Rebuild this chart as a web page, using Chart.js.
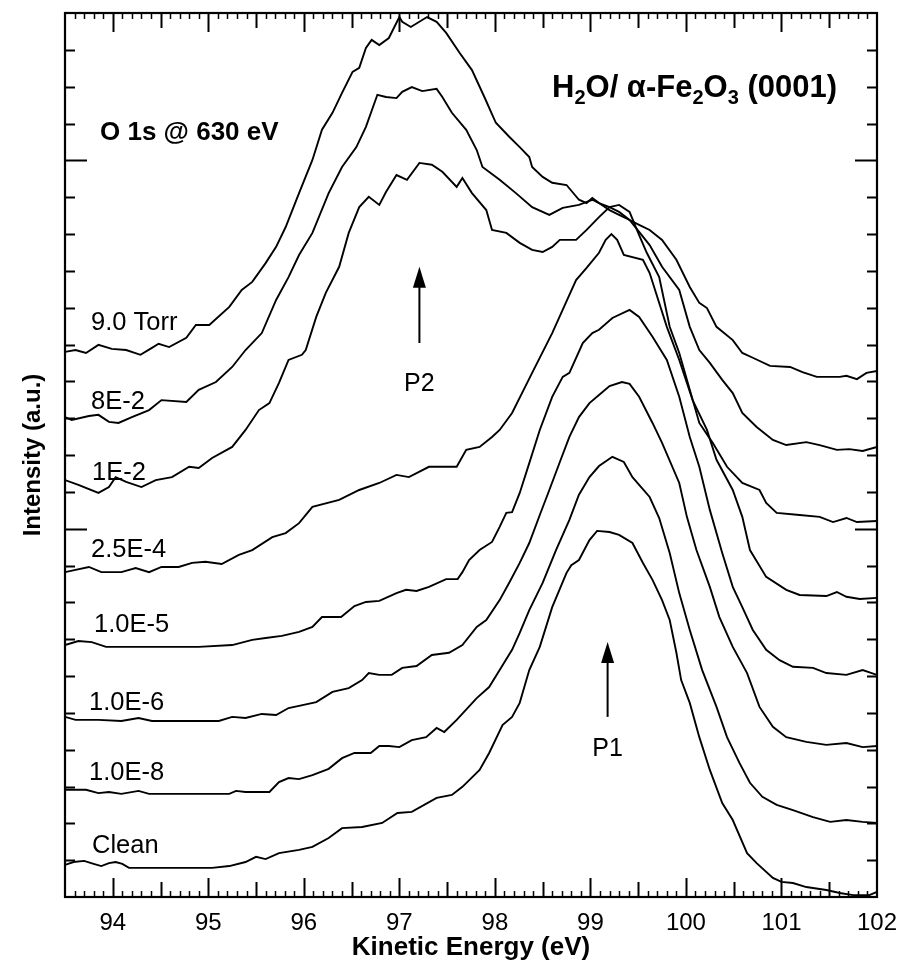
<!DOCTYPE html>
<html>
<head>
<meta charset="utf-8">
<title>H2O / Fe2O3 O 1s spectra</title>
<script src="https://cdn.jsdelivr.net/npm/chart.js@4.4.1/dist/chart.umd.min.js"></script>
<style>
    html, body { margin: 0; padding: 0; background: #fff; }
    #wrap { width: 901px; height: 966px; }
</style>
</head>
<body>
<div id="wrap"><canvas id="espectros" width="901" height="966"></canvas></div>
<script>

// [kinetic energy (eV), intensity (a.u., offset)] for each water pressure
const clean = [[93.50,0.87],[93.59,0.95],[93.70,0.98],[93.80,0.90],[93.88,0.84],[93.96,0.92],[94.03,0.95],[94.10,0.90],[94.17,0.79],[94.38,0.79],[94.62,0.79],[95.04,0.79],[95.22,0.84],[95.39,0.95],[95.50,1.09],[95.60,1.03],[95.74,1.19],[95.95,1.28],[96.09,1.36],[96.26,1.60],[96.40,1.87],[96.61,1.90],[96.82,2.01],[96.98,2.28],[97.13,2.31],[97.39,2.69],[97.55,2.77],[97.66,2.99],[97.84,3.45],[97.94,3.91],[98.08,4.67],[98.18,4.89],[98.26,5.27],[98.36,6.16],[98.47,6.79],[98.60,7.87],[98.75,8.80],[98.80,9.01],[98.88,9.15],[98.99,9.69],[99.07,9.94],[99.20,9.91],[99.30,9.83],[99.44,9.61],[99.55,9.07],[99.65,8.61],[99.75,8.06],[99.83,7.52],[99.90,6.63],[99.95,5.89],[100.04,5.27],[100.14,4.34],[100.25,3.45],[100.38,2.55],[100.49,2.09],[100.64,1.19],[100.74,0.92],[100.91,0.52],[101.00,0.41],[101.12,0.38],[101.26,0.27],[101.47,0.19],[101.61,0.11],[101.75,0.05],[101.92,0.05],[102.00,0.14]];

const p1e8 = [[93.50,2.91],[93.72,2.91],[93.85,2.82],[93.96,2.85],[94.09,2.80],[94.27,2.88],[94.38,2.80],[95.22,2.80],[95.29,2.88],[95.39,2.85],[95.64,2.85],[95.74,3.12],[95.84,3.23],[95.95,3.20],[96.09,3.31],[96.26,3.48],[96.40,3.77],[96.53,3.91],[96.70,3.91],[96.79,4.10],[96.89,4.10],[97.00,4.07],[97.13,4.26],[97.28,4.34],[97.39,4.59],[97.47,4.48],[97.60,4.81],[97.81,5.40],[97.94,5.70],[98.05,6.16],[98.18,6.71],[98.26,7.17],[98.36,7.79],[98.50,8.53],[98.64,9.42],[98.78,10.24],[98.88,10.92],[98.99,11.40],[99.09,11.70],[99.23,11.95],[99.35,11.81],[99.44,11.40],[99.62,10.86],[99.72,10.29],[99.83,9.34],[99.93,8.25],[100.04,7.25],[100.17,6.16],[100.32,5.16],[100.43,4.34],[100.56,3.64],[100.67,3.10],[100.80,2.72],[100.95,2.50],[101.12,2.36],[101.33,2.17],[101.51,2.04],[101.68,2.09],[101.85,2.04],[102.00,2.01]];

const p1e6 = [[93.50,4.89],[93.61,4.81],[93.85,4.81],[94.09,4.78],[94.27,4.86],[94.41,4.78],[95.11,4.78],[95.25,4.89],[95.39,4.86],[95.56,4.97],[95.71,4.94],[95.84,5.13],[95.95,5.19],[96.13,5.29],[96.30,5.57],[96.47,5.67],[96.61,5.89],[96.68,6.08],[96.79,6.03],[96.92,6.03],[97.03,6.22],[97.18,6.27],[97.34,6.57],[97.52,6.63],[97.66,6.84],[97.81,7.33],[97.91,7.52],[98.05,8.06],[98.15,8.53],[98.26,9.07],[98.36,9.61],[98.47,10.37],[98.57,11.05],[98.68,11.81],[98.78,12.49],[98.88,13.03],[98.99,13.41],[99.09,13.63],[99.20,13.87],[99.33,13.98],[99.41,13.93],[99.51,13.58],[99.65,12.87],[99.75,12.33],[99.93,11.24],[100.01,10.32],[100.11,9.42],[100.25,8.42],[100.35,7.60],[100.49,6.79],[100.64,6.08],[100.77,5.16],[100.91,4.62],[101.05,4.34],[101.26,4.21],[101.47,4.13],[101.68,4.18],[101.85,4.07],[102.00,4.10]];

const p1e5 = [[93.50,6.84],[93.64,6.95],[93.78,6.92],[93.93,6.79],[94.20,6.79],[94.90,6.79],[95.25,6.84],[95.46,6.98],[95.60,7.03],[95.77,7.09],[95.95,7.20],[96.09,7.33],[96.19,7.60],[96.39,7.60],[96.53,7.90],[96.65,8.01],[96.79,8.04],[96.97,8.25],[97.07,8.34],[97.18,8.31],[97.31,8.42],[97.49,8.63],[97.61,8.63],[97.66,8.82],[97.73,9.15],[97.84,9.42],[97.97,9.64],[98.05,10.05],[98.12,10.43],[98.18,10.45],[98.26,10.97],[98.36,11.78],[98.47,12.68],[98.60,13.58],[98.71,14.12],[98.78,14.23],[98.92,15.04],[99.02,15.31],[99.09,15.40],[99.23,15.72],[99.41,15.94],[99.51,15.75],[99.65,15.21],[99.80,14.58],[99.93,13.58],[100.04,12.49],[100.14,11.68],[100.25,10.51],[100.38,9.34],[100.49,8.42],[100.59,7.87],[100.70,7.25],[100.84,6.71],[100.98,6.43],[101.12,6.25],[101.33,6.22],[101.47,6.08],[101.68,6.03],[101.85,6.16],[102.00,6.03]];

const p25e4 = [[93.50,8.82],[93.61,8.88],[93.75,8.96],[93.88,8.82],[94.09,8.82],[94.24,8.93],[94.38,8.82],[94.51,8.96],[94.69,8.96],[94.83,9.07],[94.97,9.10],[95.14,9.04],[95.32,9.29],[95.46,9.42],[95.67,9.77],[95.81,9.88],[95.95,10.15],[96.09,10.59],[96.37,10.78],[96.58,11.05],[96.79,11.24],[96.97,11.46],[97.10,11.40],[97.31,11.68],[97.60,11.68],[97.70,12.14],[97.84,12.22],[97.97,12.49],[98.05,12.68],[98.18,13.14],[98.39,14.23],[98.60,15.31],[98.78,16.35],[98.85,16.75],[98.96,17.08],[99.09,17.49],[99.16,17.84],[99.22,18.00],[99.28,17.84],[99.35,17.43],[99.55,17.30],[99.62,16.94],[99.80,15.48],[99.93,14.58],[100.07,13.49],[100.22,12.68],[100.32,11.87],[100.49,11.05],[100.59,10.32],[100.67,9.42],[100.84,8.69],[101.05,8.34],[101.19,8.20],[101.47,8.17],[101.58,8.28],[101.68,8.15],[101.82,8.09],[102.00,8.12]];

const p1e2 = [[93.50,11.32],[93.64,11.19],[93.85,10.97],[93.96,11.13],[94.03,11.40],[94.14,11.27],[94.30,11.13],[94.45,11.32],[94.62,11.40],[94.80,11.68],[94.90,11.65],[95.04,11.92],[95.25,12.22],[95.39,12.68],[95.53,13.22],[95.64,13.41],[95.74,13.96],[95.84,14.58],[95.98,14.72],[96.02,14.85],[96.13,15.75],[96.23,16.40],[96.37,17.11],[96.47,18.03],[96.58,18.73],[96.68,19.01],[96.79,18.79],[96.86,19.14],[96.97,19.60],[97.08,19.47],[97.21,19.93],[97.34,19.88],[97.45,19.69],[97.60,19.28],[97.66,19.52],[97.76,19.11],[97.91,18.65],[97.97,18.11],[98.12,18.03],[98.26,17.76],[98.39,17.57],[98.50,17.51],[98.60,17.65],[98.68,17.84],[98.85,17.84],[98.96,18.11],[99.09,18.46],[99.20,18.73],[99.30,18.79],[99.41,18.60],[99.51,17.97],[99.59,17.49],[99.72,16.83],[99.83,15.48],[99.93,14.77],[100.04,13.77],[100.14,12.87],[100.28,12.33],[100.43,11.68],[100.59,11.24],[100.77,11.05],[100.84,10.70],[100.95,10.43],[101.19,10.37],[101.40,10.32],[101.54,10.18],[101.68,10.29],[101.79,10.18],[102.00,10.21]];

const p8e2 = [[93.50,13.03],[93.57,12.95],[93.75,13.06],[93.85,13.09],[93.96,12.90],[94.06,12.87],[94.20,13.03],[94.38,13.22],[94.51,13.49],[94.77,13.44],[94.90,13.77],[95.08,13.98],[95.25,14.39],[95.39,14.85],[95.56,15.31],[95.71,16.21],[95.84,16.83],[95.95,17.43],[96.09,18.03],[96.26,19.11],[96.40,19.82],[96.55,20.36],[96.65,20.91],[96.77,21.78],[96.86,21.72],[96.97,21.69],[97.03,21.86],[97.13,21.99],[97.24,21.88],[97.39,21.94],[97.45,21.72],[97.55,21.29],[97.70,20.83],[97.81,20.28],[97.87,19.82],[98.05,19.47],[98.22,19.11],[98.39,18.73],[98.57,18.52],[98.71,18.71],[98.88,18.79],[99.02,18.93],[99.09,18.84],[99.20,18.73],[99.30,18.60],[99.41,18.38],[99.51,18.06],[99.62,17.70],[99.75,17.11],[99.93,16.48],[100.04,15.48],[100.14,14.85],[100.25,14.50],[100.38,14.04],[100.49,13.68],[100.59,13.14],[100.74,12.76],[100.91,12.41],[101.05,12.27],[101.26,12.35],[101.40,12.27],[101.58,12.14],[101.71,12.16],[101.85,12.11],[102.00,12.22]];

const p9torr = [[93.50,14.80],[93.61,14.85],[93.72,14.77],[93.85,14.99],[93.99,14.88],[94.14,14.85],[94.29,14.72],[94.41,14.91],[94.48,15.02],[94.59,14.93],[94.77,15.18],[94.87,15.53],[95.01,15.53],[95.22,16.02],[95.35,16.48],[95.46,16.70],[95.60,17.21],[95.71,17.65],[95.81,18.19],[95.95,19.11],[96.09,20.01],[96.19,20.83],[96.30,21.29],[96.40,21.83],[96.51,22.40],[96.58,22.51],[96.65,23.05],[96.71,23.27],[96.79,23.13],[96.89,23.32],[97.00,23.89],[97.03,23.76],[97.12,23.62],[97.29,23.89],[97.39,23.76],[97.49,23.46],[97.63,22.92],[97.76,22.45],[97.89,21.72],[98.01,21.02],[98.15,20.64],[98.26,20.36],[98.36,20.09],[98.39,19.82],[98.50,19.55],[98.60,19.39],[98.75,19.33],[98.88,18.93],[98.96,18.84],[99.02,18.98],[99.09,18.84],[99.20,18.65],[99.30,18.52],[99.41,18.38],[99.51,18.25],[99.62,18.11],[99.75,17.84],[99.90,17.30],[100.04,16.56],[100.14,16.13],[100.22,15.99],[100.32,15.48],[100.49,15.12],[100.59,14.77],[100.70,14.64],[100.88,14.42],[101.09,14.39],[101.22,14.25],[101.37,14.12],[101.61,14.12],[101.68,14.15],[101.79,14.06],[101.89,14.23],[102.00,14.28]];

const pressures = ['Clean', '1.0E-8', '1.0E-6', '1.0E-5', '2.5E-4', '1E-2', '8E-2', '9.0 Torr'];
const spectra = [clean, p1e8, p1e6, p1e5, p25e4, p1e2, p8e2, p9torr];
const xTickValues = [94, 95, 96, 97, 98, 99, 100, 101, 102];

const fonte = '"Liberation Sans", Arial, Helvetica, sans-serif';
Chart.defaults.font.family = fonte;
Chart.defaults.color = '#000';

// label heights (a.u.) next to each curve, same order as pressures
const labelY = [1.38, 3.37, 5.27, 7.39, 9.42, 11.51, 13.44, 15.59];
const labelX = [27, 24, 24, 29, 26, 27, 26, 26];

// inward ticks, frame and the text that lives inside the plot
const molduraPlugin = {
    id: 'moldura',
    afterDraw(chart) {
        const { ctx, chartArea: a, scales: { x, y } } = chart;
        ctx.save();
        ctx.strokeStyle = '#000';
        ctx.fillStyle = '#000';

        // x ticks every 0.1 eV, bottom and top
        for (let i = 1; i < 85; i++) {
            const dec = 935 + i;
            const px = Math.round(x.getPixelForValue(dec / 10)) + 0.5;
            const len = dec % 10 === 0 ? 19 : (dec % 5 === 0 ? 15 : 6);
            ctx.lineWidth = dec % 5 === 0 ? 2 : 1.5;
            ctx.beginPath();
            ctx.moveTo(px, a.bottom); ctx.lineTo(px, a.bottom - len);
            ctx.moveTo(px, a.top); ctx.lineTo(px, a.top + len);
            ctx.stroke();
        }

        // y ticks every unit, left and right
        for (let v = 1; v < 24; v++) {
            const py = Math.round(y.getPixelForValue(v)) + 0.5;
            const len = v % 10 === 0 ? 22 : 10;
            ctx.lineWidth = v % 10 === 0 ? 2.2 : 1.8;
            ctx.beginPath();
            ctx.moveTo(a.left, py); ctx.lineTo(a.left + len, py);
            ctx.moveTo(a.right, py); ctx.lineTo(a.right - len, py);
            ctx.stroke();
        }

        ctx.lineWidth = 2.2;
        ctx.strokeRect(a.left, a.top, a.right - a.left, a.bottom - a.top);

        // pressure labels
        ctx.font = '25.5px ' + fonte;
        ctx.textBaseline = 'middle';
        ctx.textAlign = 'left';
        pressures.forEach((p, i) => {
            ctx.fillText(p, a.left + labelX[i], y.getPixelForValue(labelY[i]));
        });

        // peak markers
        ctx.font = '25px ' + fonte;
        seta(ctx, x.getPixelForValue(97.21), y.getPixelForValue(17.11), y.getPixelForValue(15.04));
        seta(ctx, x.getPixelForValue(99.18), y.getPixelForValue(6.92), y.getPixelForValue(4.89));
        ctx.textAlign = 'center';
        ctx.fillText('P2', x.getPixelForValue(97.21), y.getPixelForValue(13.93));
        ctx.fillText('P1', x.getPixelForValue(99.18), y.getPixelForValue(4.02));

        // excitation energy
        ctx.textAlign = 'left';
        ctx.textBaseline = 'alphabetic';
        ctx.font = 'bold 26px ' + fonte;
        ctx.fillText('O 1s @ 630 eV', a.left + 35, 140);

        // system title with subscripts, right aligned
        const partes = [['H', 0], ['2', 1], ['O/ \u03b1-Fe', 0], ['2', 1], ['O', 0], ['3', 1], [' (0001)', 0]];
        const big = 'bold 31px ' + fonte, small = 'bold 20px ' + fonte;
        let total = 0;
        partes.forEach(([t, sub]) => { ctx.font = sub ? small : big; total += ctx.measureText(t).width; });
        let cx = a.right - 40 - total;
        partes.forEach(([t, sub]) => {
            ctx.font = sub ? small : big;
            ctx.fillText(t, cx, sub ? 104 : 97);
            cx += ctx.measureText(t).width;
        });

        ctx.restore();
    }
};

function seta(ctx, px, yTip, yTail) {
    ctx.lineWidth = 2;
    ctx.beginPath();
    ctx.moveTo(px, yTail); ctx.lineTo(px, yTip + 18);
    ctx.stroke();
    ctx.beginPath();
    ctx.moveTo(px, yTip);
    ctx.lineTo(px - 6.5, yTip + 21);
    ctx.lineTo(px + 6.5, yTip + 21);
    ctx.closePath();
    ctx.fill();
}

const ctxEspectros = document.getElementById('espectros').getContext('2d');
const grafico = new Chart(ctxEspectros, {
    type: 'line',
    data: {
        datasets: spectra.map((s, i) => ({
            label: pressures[i],
            data: s.map(p => ({ x: p[0], y: p[1] })),
            borderColor: '#000',
            borderWidth: 1.9,
            pointRadius: 0,
            tension: 0,
            fill: false
        }))
    },
    options: {
        responsive: false,
        animation: false,
        layout: { padding: { top: 13, right: 24, left: 0, bottom: 0 } },
        plugins: { legend: { display: false }, tooltip: { enabled: false } },
        scales: {
            x: {
                type: 'linear',
                min: 93.5,
                max: 102,
                afterBuildTicks: s => { s.ticks = xTickValues.map(v => ({ value: v })); },
                afterFit: s => { s.height = 69; s.paddingLeft = 0; s.paddingRight = 0; },
                grid: { display: false, drawTicks: false },
                border: { display: false },
                ticks: { font: { size: 24 }, padding: 12, maxRotation: 0, autoSkip: false },
                title: {
                    display: true,
                    text: 'Kinetic Energy (eV)',
                    font: { size: 26, weight: 'bold', lineHeight: 1.2 },
                    padding: { top: 0, bottom: 3 }
                }
            },
            y: {
                type: 'linear',
                min: 0,
                max: 24,
                afterFit: s => { s.width = 65; s.paddingTop = 0; s.paddingBottom = 0; },
                grid: { display: false, drawTicks: false },
                border: { display: false },
                ticks: { display: false },
                title: {
                    display: true,
                    text: 'Intensity (a.u.)',
                    font: { size: 24, weight: 'bold', lineHeight: 1.2 },
                    padding: { top: 19, bottom: 0 }
                }
            }
        }
    },
    plugins: [molduraPlugin]
});

</script>
</body>
</html>
